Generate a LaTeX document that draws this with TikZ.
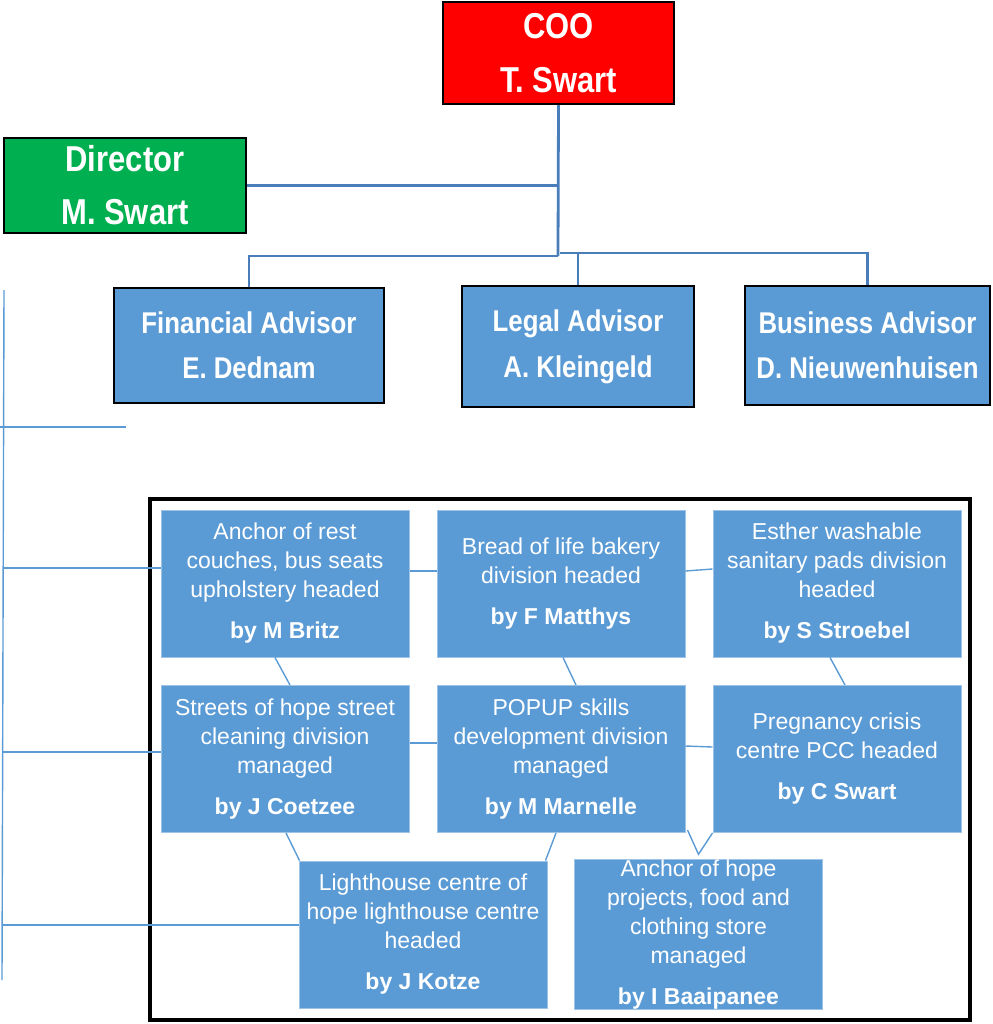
\documentclass[tikz,border=0pt]{standalone}
\usepackage{fontspec}
\setmainfont{Liberation Sans}
\newfontfamily\headfont[FakeStretch=0.86]{Liberation Sans}
\usetikzlibrary{calc,positioning}
\definecolor{cooRed}{HTML}{FF0000}
\definecolor{dirGreen}{HTML}{00B050}
\definecolor{unitBlue}{HTML}{5B9BD5}
\definecolor{trunkBlue}{HTML}{4A7EBB}
\definecolor{edgeBlue}{HTML}{9DC3E6}

\begin{document}
\begin{tikzpicture}[x=0.5pt, y=-0.5pt]
		\tikzstyle{headbox}=[draw=black, line width=1.2pt, text=white, align=center, inner sep=0pt]
		\tikzstyle{unitbox}=[fill=unitBlue, draw=edgeBlue, line width=0.5pt, text=white, align=center, inner sep=0pt, minimum width=124pt, minimum height=73.5pt, font=\fontsize{11.5}{14.5}\selectfont]
		\tikzstyle{trunk}=[draw=trunkBlue, line width=1.4pt]
		\tikzstyle{twig}=[draw=unitBlue, line width=0.7pt]
		\useasboundingbox (0,0) rectangle (992,1024);
		% top of the chart
		\node [headbox, fill=cooRed, minimum width=115.5pt, minimum height=51pt, font=\headfont\bfseries\fontsize{18}{27}\selectfont] (coo) at (558.5,53) {COO\\T. Swart};
		\node [headbox, fill=dirGreen, minimum width=121pt, minimum height=47.5pt, font=\headfont\bfseries\fontsize{18}{26.5}\selectfont] (director) at (125,185.5) {Director\\M. Swart};
		\node [headbox, fill=unitBlue, minimum width=135pt, minimum height=57.5pt, font=\headfont\bfseries\fontsize{15}{22.5}\selectfont] (fin) at (249,345.5) {Financial Advisor\\E. Dednam};
		\node [headbox, fill=unitBlue, minimum width=116pt, minimum height=60.5pt, font=\headfont\bfseries\fontsize{15}{23}\selectfont] (legal) at (578,346.5) {Legal Advisor\\A. Kleingeld};
		\node [headbox, fill=unitBlue, minimum width=122.5pt, minimum height=59.5pt, font=\headfont\bfseries\fontsize{15}{22.5}\selectfont] (bus) at (867.5,345.5) {Business Advisor\\D. Nieuwenhuisen};
		\coordinate (hub) at (558,256);
		\coordinate (hubr) at (560,253);
		\draw [trunk] (coo.south) -- (hub);
		\draw [trunk] (director.east) -- (director.east -| hub);
		\draw [trunk] (hub) -| (fin.north);
		\draw [trunk] (hubr) -| (bus.north);
		\draw [trunk] (hubr -| legal.north) -- (legal.north);
		% left spine
		\coordinate (spinetop) at (4,290);
		\coordinate (spinefoot) at (2,980);
		\coordinate (stubL) at (0,427);
		\coordinate (stubR) at (126,427);
		\coordinate (tapA) at (3,568);
		\coordinate (tapB) at (3,752);
		\coordinate (tapC) at (3,925);
		\draw [twig] (spinetop) -- (spinefoot);
		\draw [twig] (stubL) -- (stubR);
		% divisions
		\draw [line width=2pt] (150,499) rectangle (970,1020);
		\node [unitbox] (rest) at (285,583.5) {Anchor of rest\\couches, bus seats\\upholstery headed\\[6pt]\textbf{by M Britz}};
		\node [unitbox] (bread) at (561,583.5) {Bread of life bakery\\division headed\\[6pt]\textbf{by F Matthys}};
		\node [unitbox] (esther) at (837,583.5) {Esther washable\\sanitary pads division\\headed\\[6pt]\textbf{by S Stroebel}};
		\node [unitbox] (streets) at (285,759) {Streets of hope street\\cleaning division\\managed\\[6pt]\textbf{by J Coetzee}};
		\node [unitbox] (popup) at (561,759) {POPUP skills\\development division\\managed\\[6pt]\textbf{by M Marnelle}};
		\node [unitbox] (pcc) at (837,759) {Pregnancy crisis\\centre PCC headed\\[6pt]\textbf{by C Swart}};
		\node [unitbox] (light) at (423,934.5) {Lighthouse centre of\\hope lighthouse centre\\headed\\[6pt]\textbf{by J Kotze}};
		\node [unitbox] (hope) at (698.5,934.5) {Anchor of hope\\projects, food and\\clothing store\\managed\\[6pt]\textbf{by I Baaipanee}};
		\draw [twig] (tapA) -- (tapA -| rest.west);
		\draw [twig] (tapB) -- (tapB -| streets.west);
		\draw [twig] (tapC) -- (tapC -| light.west);
		\draw [twig] ([yshift=6.25pt]rest.east) -- ([yshift=6.25pt]bread.west);
		\draw [twig] ([yshift=6.25pt]bread.east) -- ([yshift=7.25pt]esther.west);
		\draw [twig] ([yshift=8pt]streets.east) -- ([yshift=8pt]popup.west);
		\draw [twig] ([yshift=6.5pt]popup.east) -- ([yshift=6pt]pcc.west);
		\draw [twig] ([xshift=-5pt]rest.south) -- ([xshift=2.5pt]streets.north);
		\draw [twig] ([xshift=1pt]bread.south) -- ([xshift=7.5pt]popup.north);
		\draw [twig] ([xshift=-3.5pt]esther.south) -- ([xshift=4pt]pcc.north);
		\draw [twig] ([xshift=0.5pt]streets.south) -- ([xshift=0.5pt]light.north west);
		\draw [twig] ([xshift=-2.5pt]popup.south) -- ([xshift=-1pt]light.north east);
		\draw [twig] ([xshift=1pt,yshift=1.5pt]popup.south east) -- ([yshift=2.5pt]hope.north) -- (pcc.south west);
\end{tikzpicture}
\end{document}
